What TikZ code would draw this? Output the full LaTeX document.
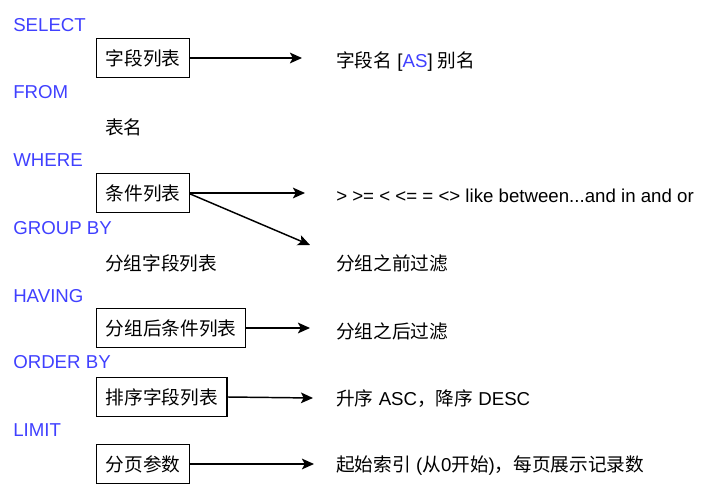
\documentclass[tikz,border=0pt]{standalone}
\usepackage{fontspec}
\setmainfont{Liberation Sans}
\newfontfamily\cjk{Noto Sans CJK SC}
\usetikzlibrary{arrows.meta}
\definecolor{kw}{RGB}{64,64,255}
\newcommand{\zh}[1]{{\cjk #1}}
\begin{document}
\begin{tikzpicture}[x=0.75pt,y=-0.75pt,
  every node/.style={font=\fontsize{14}{17}\selectfont, inner sep=0pt},
  keyword/.style={anchor=west, text=kw},
  item/.style={anchor=west},
  listbox/.style={draw, line width=1.1pt, minimum height=29pt, inner xsep=6.8pt, anchor=west},
  link/.style={line width=1.1pt, -{Stealth[length=9pt,width=8pt,inset=2pt]}}]
\useasboundingbox (0,0) rectangle (719,496);

% clause keywords
\node[keyword] (kSelect) at (13,25) {SELECT};
\node[keyword] (kFrom)   at (13,92) {FROM};
\node[keyword] (kWhere)  at (13,160) {WHERE};
\node[keyword] (kGroup)  at (13,228) {GROUP BY};
\node[keyword] (kHaving) at (13,296) {HAVING};
\node[keyword] (kOrder)  at (13,362) {ORDER BY};
\node[keyword] (kLimit)  at (13,430) {LIMIT};

% clause arguments
\node[listbox] (bSelect) at (96,58)  {\zh{字段列表}};
\node[item]    (tFrom)   at (105,127) {\zh{表名}};
\node[listbox] (bWhere)  at (96,193) {\zh{条件列表}};
\node[item]    (tGroup)  at (105,263) {\zh{分组字段列表}};
\node[listbox] (bHaving) at (96,328) {\zh{分组后条件列表}};
\node[listbox] (bOrder)  at (96,397) {\zh{排序字段列表}};
\node[listbox] (bLimit)  at (96,464) {\zh{分页参数}};

% explanations
\node[item] (dSelect) at (336,62)  {\zh{字段名} [\textcolor{kw}{AS}] \zh{别名}};
\node[item] (dWhere)  at (336,196) {> >= < <= = <> like between...and in and or};
\node[item] (dGroup)  at (336,263) {\zh{分组之前过滤}};
\node[item] (dHaving) at (336,331) {\zh{分组之后过滤}};
\node[item] (dOrder)  at (336,399) {\zh{升序} ASC\zh{，降序} DESC};
\node[item] (dLimit)  at (336,466) {\zh{起始索引} (\zh{从}0\zh{开始})\zh{，每页展示记录数}};

% arrow end points
\coordinate (eSelect) at (302,58);
\coordinate (eWhere)  at (305,193);
\coordinate (eGroup)  at (310,245);
\coordinate (eHaving) at (310,328);
\coordinate (eOrder)  at (313,398);
\coordinate (eLimit)  at (314,464);

\draw[link] (bSelect.east) -- (eSelect);
\draw[link] (bWhere.east) -- (eWhere);
\draw[link] (bWhere.east) ++(0,1) -- (eGroup);
\draw[link] (bHaving.east) -- (eHaving);
\draw[link] (bOrder.east) -- (eOrder);
\draw[link] (bLimit.east) -- (eLimit);
\end{tikzpicture}
\end{document}
